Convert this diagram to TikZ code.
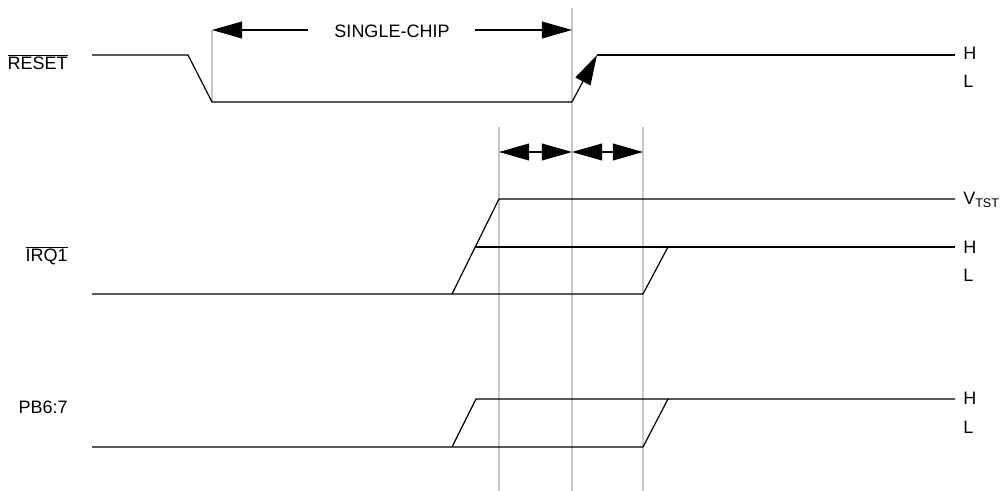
\documentclass[tikz,border=0pt]{standalone}
\usepackage{fontspec}
\setmainfont{Liberation Sans}
\usetikzlibrary{arrows.meta}
\tikzset{
  wave/.style={line width=0.85pt, black},
  guide/.style={line width=1.3pt, black!22},
  bigtip/.style={-{Triangle[length=0.75cm,width=0.42cm]}},
  lvl/.style={anchor=base west, inner sep=0pt},
  sig/.style={anchor=base east, inner sep=0pt},
}
\newcommand{\sigbar}[1]{$\overline{\hbox{#1}}$}

\begin{document}
\begin{tikzpicture}[x=0.025cm, y=-0.025cm, font=\fontsize{12.8}{15}\selectfont]
\useasboundingbox (0,0) rectangle (1008,491);
% grey timing guides
\draw[guide] (212,30) -- (212,102);
\draw[guide] (572,8) -- (572,491);
\draw[guide] (499,127) -- (499,491);
\draw[guide] (643,127) -- (643,491);
% RESET
\draw[wave] (92,55) -- (188,55) -- (212,102) -- (572,102);
\draw[wave, bigtip] (572,102) -- (597,55);
\draw[wave] (597,55) -- (955,55);
\node[sig] (reset) at (68,70) {\sigbar{RESET}};
\node[lvl] (resetH) at (963,60) {H};
\node[lvl] (resetL) at (963,88) {L};
% single-chip span
\node (single) at (392,31) {SINGLE-CHIP};
\draw[wave, bigtip] (308,30) -- (212,30);
\draw[wave, bigtip] (475,30) -- (572,30);
% setup / hold
\draw[wave, bigtip] (535.5,152) -- (499,152);
\draw[wave, bigtip] (535.5,152) -- (572,152);
\draw[wave, bigtip] (607.5,152) -- (572,152);
\draw[wave, bigtip] (607.5,152) -- (643,152);
% IRQ1
\draw[wave] (92,294) -- (452,294) -- (499,199) -- (955,199);
\draw[wave] (452,294) -- (643,294) -- (668,247);
\draw[wave] (476,247) -- (955,247);
\node[sig] (irq) at (68,262) {\sigbar{IRQ1}};
\node[lvl] (vtst) at (963,205) {V\textsubscript{TST}};
\node[lvl] (irqH) at (963,254) {H};
\node[lvl] (irqL) at (963,282) {L};
% PB6:7
\draw[wave] (92,447) -- (643,447) -- (668,399) -- (955,399);
\draw[wave] (452,447) -- (476,399) -- (668,399);
\node[sig] (pb) at (68,414) {PB6:7};
\node[lvl] (pbH) at (963,405) {H};
\node[lvl] (pbL) at (963,434) {L};
\end{tikzpicture}
\end{document}
